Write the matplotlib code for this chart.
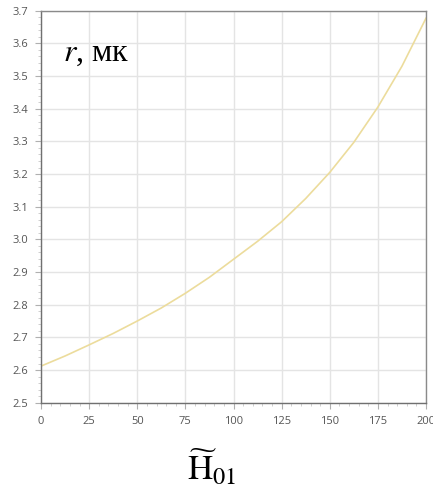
import matplotlib
matplotlib.use("Agg")
import matplotlib.pyplot as plt
from matplotlib.ticker import MultipleLocator, FormatStrFormatter

# Data
h01 = [0, 12.5, 25, 37.5, 50, 62.5, 75, 87.5, 100, 112.5, 125, 137.5, 150, 162.5, 175, 187.5, 200]
r_values = [2.612, 2.643, 2.677, 2.712, 2.750, 2.790, 2.835, 2.884, 2.939, 2.994,
            3.054, 3.125, 3.205, 3.297, 3.405, 3.530, 3.677]
x_ticks = [0, 25, 50, 75, 100, 125, 150, 175, 200]
y_ticks = [2.5, 2.6, 2.7, 2.8, 2.9, 3.0, 3.1, 3.2, 3.3, 3.4, 3.5, 3.6, 3.7]

plt.rcParams['mathtext.fontset'] = 'stix'

fig = plt.figure(figsize=(4.33, 4.92), dpi=100)
ax = fig.add_axes([41/433, 1 - 402.7/492, (426 - 41)/433, (402.7 - 10.7)/492])

ax.plot(h01, r_values, color='#ecdc9c', lw=1.2)

ax.set_xlim(0, 200)
ax.set_ylim(2.5, 3.7)
ax.set_xticks(x_ticks)
ax.set_yticks(y_ticks)
ax.yaxis.set_major_formatter(FormatStrFormatter('%.1f'))
ax.xaxis.set_minor_locator(MultipleLocator(5))
ax.yaxis.set_minor_locator(MultipleLocator(0.02))

ax.grid(True, which='major', color='#e4e4e4', lw=1.0)
ax.set_axisbelow(True)

for s in ['left', 'bottom']:
    ax.spines[s].set_color('#707070')
    ax.spines[s].set_linewidth(1.0)
for s in ['top', 'right']:
    ax.spines[s].set_color('#8a8a8a')
    ax.spines[s].set_linewidth(1.0)

ax.tick_params(which='major', length=4, width=0.8, color='#b0b0b0', labelsize=8,
               labelcolor='#555555', pad=5.5)
ax.tick_params(which='minor', length=2, width=0.6, color='#c8c8c8')
for lab in ax.get_xticklabels() + ax.get_yticklabels():
    lab.set_family('Open Sans')

ax.text(0.058, 0.872, r'$r$, мк', transform=ax.transAxes, fontsize=23,
        family=['Liberation Serif', 'DejaVu Serif'], ha='left', va='baseline')

fig.text(212/433, 1 - 480/492, r'$\widetilde{\mathrm{H}}_{\mathrm{01}}$', fontsize=25,
         ha='center', va='baseline')

fig.savefig('out.png', dpi=100)
